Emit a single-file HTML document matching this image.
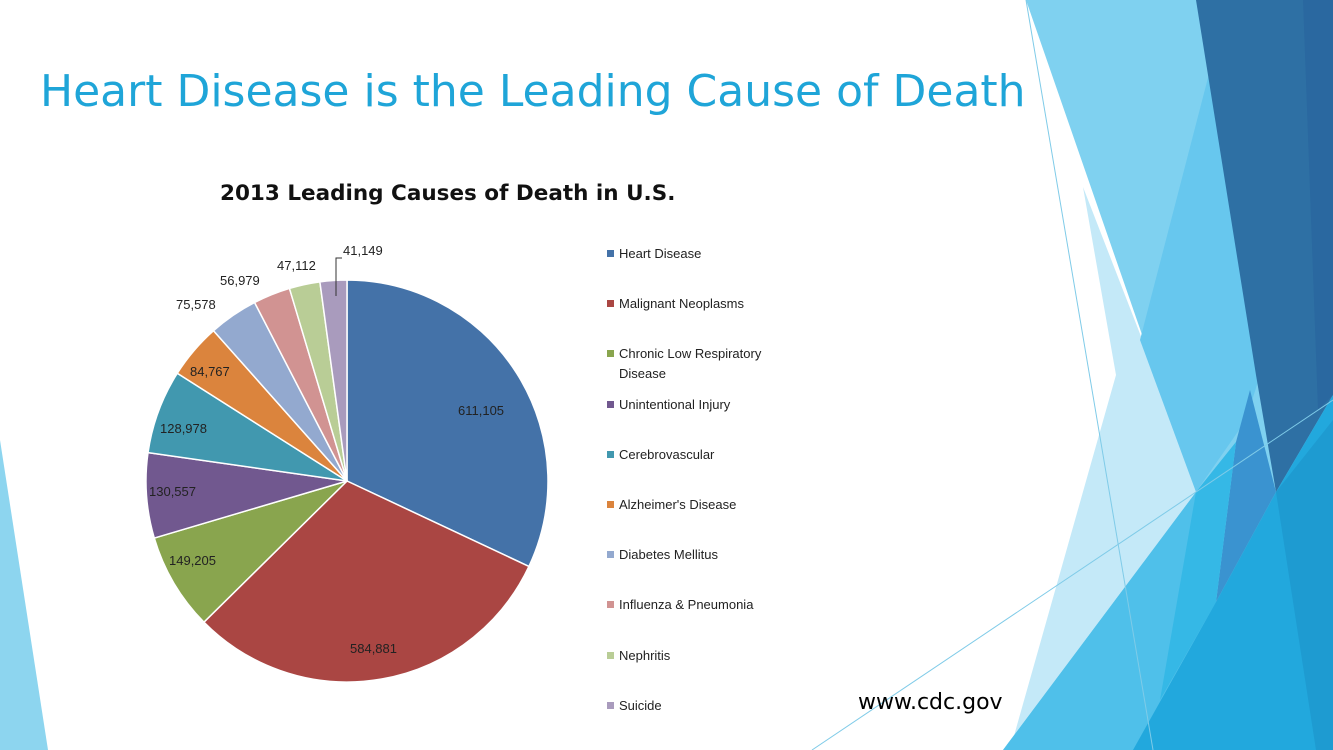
<!DOCTYPE html>
<html><head><meta charset="utf-8"><style>
body{margin:0;width:1333px;height:750px;overflow:hidden;background:#fff;font-family:"Liberation Sans",sans-serif;position:relative}
.t{position:absolute;left:40px;top:66px;font-size:44px;color:#1fa5d8;font-family:"DejaVu Sans","Liberation Sans",sans-serif;white-space:nowrap}
.ct{position:absolute;left:220px;top:181px;font-size:21.5px;font-weight:bold;color:#111;font-family:"DejaVu Sans",sans-serif;white-space:nowrap}
.lg{position:absolute;left:607px;font-size:13px;color:#222;line-height:20px}
.lg i{position:absolute;left:0;top:6px;width:7px;height:7px}
.lg span{position:absolute;left:12px;white-space:nowrap}
.lb{position:absolute;font-size:13px;color:#222;white-space:nowrap}
.cdc{position:absolute;left:858px;top:690px;font-size:22px;color:#000;font-family:"DejaVu Sans",sans-serif}
</style></head><body>
<svg width="1333" height="750" style="position:absolute;left:0;top:0">
<polygon points="0,440 48,750 0,750" fill="#8dd5ef"/>
<polygon points="1026,0 1333,0 1333,750 1003,750 1196,492 1156,375" fill="#7fd1f0"/>
<polygon points="1083,187 1156,375 1196,492 1003,750 1010,750 1116,375" fill="#c4e9f8"/>
<polygon points="1210,70 1260,375 1246,420 1196,492 1140,340" fill="#67c7ee"/>
<polygon points="1196,0 1333,0 1333,395 1276,492 1256,375" fill="#2e70a4"/>
<polygon points="1303,0 1333,0 1333,395 1318,410" fill="#2a68a0"/>
<polygon points="1250,390 1276,492 1216,602 1236,442" fill="#3a93d0"/>
<polygon points="1003,750 1196,492 1236,442 1216,602 1190,750" fill="#4fc0ea"/>
<polygon points="1236,442 1216,602 1160,700 1196,492" fill="#35b8e6"/>
<polygon points="1276,492 1333,395 1333,750 1133,750 1216,602" fill="#22a8dd"/>
<polygon points="1276,492 1333,420 1333,750 1316,750" fill="#1e9bd1"/>
<line x1="1026" y1="0" x2="1153" y2="750" stroke="#7fcbe8" stroke-width="1"/>
<line x1="812" y1="750" x2="1333" y2="400" stroke="#7fcbe8" stroke-width="1"/>
<g id="pie"></g>
<polyline points="336,296 336,258 342,258" fill="none" stroke="#333" stroke-width="1"/>
</svg>
<div class="t">Heart Disease is the Leading Cause of Death</div>
<div class="ct">2013 Leading Causes of Death in U.S.</div>
<div class="lb" style="left:343px;top:243px">41,149</div>
<div class="lb" style="left:277px;top:258px">47,112</div>
<div class="lb" style="left:220px;top:273px">56,979</div>
<div class="lb" style="left:176px;top:297px">75,578</div>
<div class="lb" style="left:190px;top:364px">84,767</div>
<div class="lb" style="left:160px;top:421px">128,978</div>
<div class="lb" style="left:149px;top:484px">130,557</div>
<div class="lb" style="left:169px;top:553px">149,205</div>
<div class="lb" style="left:458px;top:403px">611,105</div>
<div class="lb" style="left:350px;top:641px">584,881</div>
<div id="leg"></div>
<div class="cdc">www.cdc.gov</div>
<script>
var v=[611105,584881,149205,130557,128978,84767,75578,56979,47112,41149];
var c=["#4472a8","#aa4643","#89a54e","#71588f","#4198af","#db843d","#93a9cf","#d19392","#b9cd96","#a99bbd"];
var n=["Heart Disease","Malignant Neoplasms","Chronic Low Respiratory<br>Disease","Unintentional Injury","Cerebrovascular","Alzheimer's Disease","Diabetes Mellitus","Influenza &amp; Pneumonia","Nephritis","Suicide"];
var T=v.reduce((a,b)=>a+b),a=0,cx=347,cy=481,r=201,s="";
v.forEach(function(x,i){var a2=a+x/T*2*Math.PI;
var x1=cx+r*Math.sin(a),y1=cy-r*Math.cos(a),x2=cx+r*Math.sin(a2),y2=cy-r*Math.cos(a2);
s+='<path d="M'+cx+','+cy+'L'+x1+','+y1+'A'+r+','+r+' 0 '+(a2-a>Math.PI?1:0)+' 1 '+x2+','+y2+'Z" fill="'+c[i]+'" stroke="#fff" stroke-width="1.5"/>';a=a2;});
document.getElementById('pie').innerHTML=s;
var L="";n.forEach(function(t,i){L+='<div class="lg" style="top:'+(244+i*50.2)+'px"><i style="background:'+c[i]+'"></i><span>'+t+'</span></div>';});
document.getElementById('leg').innerHTML=L;
</script>
</body></html>
